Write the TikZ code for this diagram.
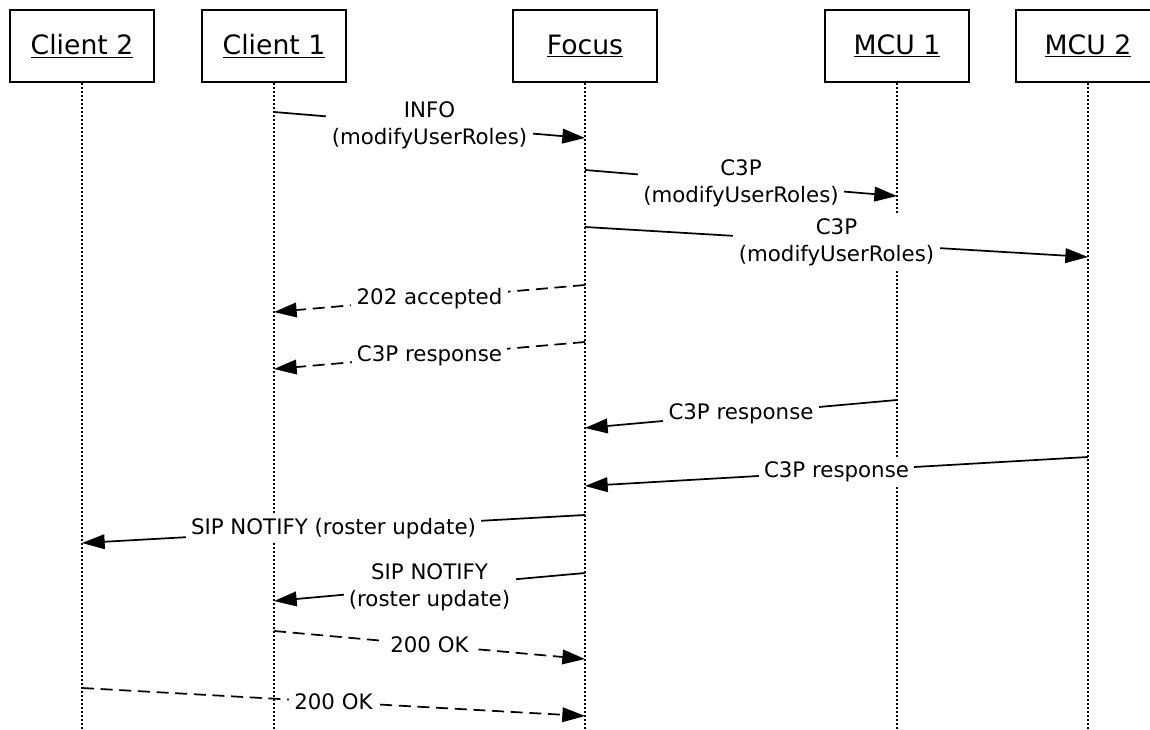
\documentclass[tikz,border=0pt]{standalone}
\usepackage{fontspec}
\setmainfont{DejaVu Sans}
\usetikzlibrary{arrows.meta}
\begin{document}
\begin{tikzpicture}[x=0.75pt,y=-0.75pt,
  actor/.style={draw, line width=1.4pt, minimum width=108pt, minimum height=54pt,
    font=\fontsize{20}{24}\selectfont, inner sep=0pt},
  life/.style={line width=0.8pt, dash pattern=on 1.5pt off 1.5pt},
  msg/.style={line width=1.3pt, -{Triangle[length=17pt,width=11pt]}},
  reply/.style={msg, dash pattern=on 9pt off 5pt},
  lbl/.style={fill=white, font=\fontsize{16}{20}\selectfont, align=center,
    inner xsep=4pt, inner ysep=2.5pt}
]
\clip (0,0) rectangle (1150,730);
\fill[white] (0,0) rectangle (1150,730);

% actors
\node[actor] (c2) at (82,46) {\underline{Client 2}};
\node[actor] (c1) at (274,46) {\underline{Client 1}};
\node[actor] (fo) at (585,46) {\underline{Focus}};
\node[actor] (m1) at (897,46) {\underline{MCU 1}};
\node[actor] (m2) at (1088,46) {\underline{MCU 2}};

% lifeline ends
\coordinate (c2b) at (82,730);
\coordinate (c1b) at (274,730);
\coordinate (fob) at (585,730);
\coordinate (m1b) at (897,730);
\coordinate (m2b) at (1088,730);

\draw[life] (c2.south) -- (c2b);
\draw[life] (c1.south) -- (c1b);
\draw[life] (fo.south) -- (fob);
\draw[life] (m1.south) -- (m1b);
\draw[life] (m2.south) -- (m2b);

% message anchor points
\coordinate (a1) at (274,112);  \coordinate (b1) at (585,138);
\coordinate (a2) at (585,170);  \coordinate (b2) at (897,196);
\coordinate (a3) at (585,227);  \coordinate (b3) at (1088,257);
\coordinate (a4) at (585,285);  \coordinate (b4) at (274,312);
\coordinate (a5) at (585,342);  \coordinate (b5) at (274,369);
\coordinate (a6) at (897,400);  \coordinate (b6) at (585,428);
\coordinate (a7) at (1088,457); \coordinate (b7) at (585,486);
\coordinate (a8) at (585,515);  \coordinate (b8) at (82,543);
\coordinate (a9) at (585,573);  \coordinate (b9) at (274,601);
\coordinate (a10) at (274,631); \coordinate (b10) at (585,659);
\coordinate (a11) at (82,688);  \coordinate (b11) at (585,716);

\draw[msg] (a1) -- node[lbl] {INFO\\(modifyUserRoles)} (b1);
\draw[msg] (a2) -- node[lbl] {C3P\\(modifyUserRoles)} (b2);
\draw[msg] (a3) -- node[lbl] {C3P\\(modifyUserRoles)} (b3);
\draw[reply] (a4) -- node[lbl] {202 accepted} (b4);
\draw[reply] (a5) -- node[lbl] {C3P response} (b5);
\draw[msg] (a6) -- node[lbl] {C3P response} (b6);
\draw[msg] (a7) -- node[lbl] {C3P response} (b7);
\draw[msg] (a8) -- node[lbl] {SIP NOTIFY (roster update)} (b8);
\draw[msg] (a9) -- node[lbl] {SIP NOTIFY\\(roster update)} (b9);
\draw[reply] (a10) -- node[lbl] {200 OK} (b10);
\draw[reply] (a11) -- node[lbl] {200 OK} (b11);
\end{tikzpicture}
\end{document}
